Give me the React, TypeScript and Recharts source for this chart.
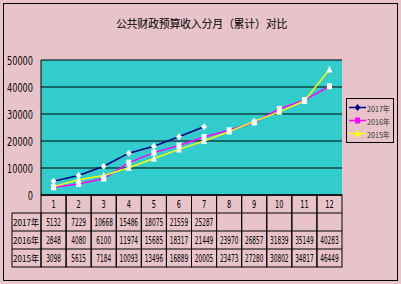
import React from 'react';
import { LineChart, Line, XAxis, YAxis, CartesianGrid, Legend } from 'recharts';

const months = ['1', '2', '3', '4', '5', '6', '7', '8', '9', '10', '11', '12'];
const s2017 = [5132, 7229, 10668, 15486, 18075, 21559, 25287];
const s2016 = [2848, 4080, 6100, 11974, 15685, 18317, 21449, 23970, 26857, 31839, 35149, 40283];
const s2015 = [3098, 5615, 7184, 10093, 13496, 16889, 20005, 23473, 27280, 30802, 34817, 46449];
const seriesNames = ['2017年', '2016年', '2015年'];
const seriesColors = ['#000080', '#FF00FF', '#FFFF00'];
const yTicks = [0, 10000, 20000, 30000, 40000, 50000];
const title = '公共财政预算收入分月（累计）对比';

const W = 401;
const H = 284;
const M = { top: 60, right: 59, bottom: 17, left: 0 };
const Y_W = 41;
const X_H = 72;
const PLOT_W = W - M.left - Y_W - M.right;
const COL_W = PLOT_W / months.length;
const ROW_H = X_H / 4;
const BG = '#E8C4CA';
const FONT = '"Liberation Sans Narrow", "DejaVu Sans Condensed", "Noto Sans CJK SC", sans-serif';
const CJK = '"Noto Sans CJK SC", sans-serif';

const data = months.map((m, i) => ({
  month: m,
  y2017: i < s2017.length ? s2017[i] : null,
  y2016: s2016[i] ?? null,
  y2015: s2015[i] ?? null,
}));

const Diamond = ({ cx, cy, fill }: any) =>
  cx == null || cy == null ? null : (
    <polygon points={`${cx},${cy - 3.5} ${cx + 3},${cy} ${cx},${cy + 3.5} ${cx - 3},${cy}`} fill={fill} />
  );
const Square = ({ cx, cy, fill }: any) =>
  cx == null || cy == null ? null : <rect x={cx - 2.5} y={cy - 3} width={5} height={6} fill={fill} />;
const Triangle = ({ cx, cy, fill }: any) =>
  cx == null || cy == null ? null : (
    <polygon points={`${cx},${cy - 4} ${cx + 3},${cy + 3} ${cx - 3},${cy + 3}`} fill={fill} />
  );
const markers = [Diamond, Square, Triangle];

// narrow, tall digits like the original bitmap font
const numText = (x: number, y: number, v: string | number, per: number, size: number, sy: number, anchor = 'middle') => {
  const s = String(v);
  return (
    <g transform={`translate(${x},${y}) scale(1,${sy})`}>
      <text
        x={0}
        y={0}
        textAnchor={anchor}
        dominantBaseline="central"
        fontFamily={FONT}
        fontSize={size}
        fill="#000"
        textLength={s.length * per}
        lengthAdjust="spacingAndGlyphs"
      >
        {s}
      </text>
    </g>
  );
};

const YTick = ({ x, y, payload }: any) => <g>{numText(x, y + 1, payload.value, 5.2, 10, 1.25, 'end')}</g>;

const TableTick = ({ x, y, payload, index }: any) => {
  const i = typeof index === 'number' ? index : months.indexOf(payload.value);
  const left = x - COL_W / 2;
  const vals = [s2017[i], s2016[i], s2015[i]];
  return (
    <g>
      <rect x={left} y={y} width={COL_W} height={ROW_H * 4} fill="none" stroke="#000" strokeWidth={1} />
      {[1, 2, 3].map((r) => (
        <line key={r} x1={left} x2={left + COL_W} y1={y + ROW_H * r} y2={y + ROW_H * r} stroke="#000" />
      ))}
      {numText(x, y + ROW_H / 2, payload.value, 4.2, 9, 1.2)}
      {vals.map((v, r) =>
        v == null ? null : <g key={r}>{numText(x, y + ROW_H * (r + 1.5), v, 3.7, 8, 1.35)}</g>
      )}
      {i === 0 && (
        <g>
          <rect x={12} y={y + ROW_H} width={left - 12} height={ROW_H * 3} fill="none" stroke="#000" />
          {[2, 3].map((r) => (
            <line key={r} x1={12} x2={left} y1={y + ROW_H * r} y2={y + ROW_H * r} stroke="#000" />
          ))}
          {seriesNames.map((n, r) => (
            <text
              key={n}
              x={13}
              y={y + ROW_H * (r + 1.5)}
              dominantBaseline="central"
              fontFamily={CJK}
              fontSize={9}
              textLength={26}
              lengthAdjust="spacingAndGlyphs"
              fill="#000"
            >
              {n}
            </text>
          ))}
        </g>
      )}
    </g>
  );
};

const LegendBox = ({ payload }: any) => {
  const items = [...(payload || [])].sort(
    (a: any, b: any) => seriesNames.indexOf(a.value) - seriesNames.indexOf(b.value)
  );
  return (
    <div
      style={{
        border: '1px solid #000',
        width: 46,
        height: 41,
        background: BG,
        boxSizing: 'content-box',
        paddingTop: 2,
      }}
    >
      {items.map((p: any) => {
        const k = seriesNames.indexOf(p.value);
        const Mk = markers[k];
        const c = seriesColors[k];
        return (
          <svg key={p.value} width={46} height={13} style={{ display: 'block' }}>
            <line x1={2} x2={19} y1={6.5} y2={6.5} stroke={c} strokeWidth={1.5} />
            <Mk cx={10.5} cy={6.5} fill={c} />
            <text
              x={20}
              y={7}
              dominantBaseline="central"
              fontFamily={CJK}
              fontSize={7.5}
              textLength={23}
              lengthAdjust="spacingAndGlyphs"
              fill="#333"
            >
              {p.value}
            </text>
          </svg>
        );
      })}
    </div>
  );
};

export default function App() {
  return (
    <div style={{ position: 'absolute', left: 0, top: 0, width: W, height: H, background: BG }}>
      <div
        style={{
          position: 'absolute',
          left: 3,
          top: 3,
          width: 393,
          height: 276,
          border: '1px solid #000',
        }}
      />
      <div
        style={{
          position: 'absolute',
          left: 0,
          top: 15,
          width: W + 2,
          textAlign: 'center',
          fontFamily: CJK,
          fontSize: 11,
          lineHeight: '16px',
          letterSpacing: -0.3,
          color: '#000',
        }}
      >
        {title}
      </div>
      <LineChart width={W} height={H} data={data} margin={M} style={{ position: 'absolute', left: 0, top: 0 }}>
        <CartesianGrid vertical={false} stroke="#000" fill="#33CCCC" strokeWidth={1} />
        <XAxis
          dataKey="month"
          scale="point"
          padding={{ left: COL_W / 2, right: COL_W / 2 }}
          height={X_H}
          tickLine={false}
          tickSize={0}
          tickMargin={0}
          axisLine={{ stroke: '#000' }}
          tick={<TableTick />}
          interval={0}
        />
        <YAxis
          width={Y_W}
          domain={[0, 50000]}
          ticks={yTicks}
          interval={0}
          tickLine={false}
          tickSize={0}
          tickMargin={8}
          axisLine={{ stroke: '#000' }}
          tick={<YTick />}
        />
        <YAxis
          yAxisId="r"
          orientation="right"
          width={0}
          domain={[0, 50000]}
          ticks={yTicks}
          tick={false}
          tickLine={false}
          axisLine={{ stroke: '#808080' }}
        />
        <Line
          dataKey="y2017"
          name={seriesNames[0]}
          stroke={seriesColors[0]}
          strokeWidth={1.5}
          dot={<Diamond />}
          activeDot={false}
          isAnimationActive={false}
          connectNulls={false}
        />
        <Line
          dataKey="y2016"
          name={seriesNames[1]}
          stroke={seriesColors[1]}
          strokeWidth={1.5}
          dot={<Square />}
          activeDot={false}
          isAnimationActive={false}
        />
        <Line
          dataKey="y2015"
          name={seriesNames[2]}
          stroke={seriesColors[2]}
          strokeWidth={1.5}
          dot={<Triangle />}
          activeDot={false}
          isAnimationActive={false}
        />
        <Legend
          layout="vertical"
          align="center"
          verticalAlign="middle"
          wrapperStyle={{ left: 346, top: 98, width: 48, height: 43 }}
          content={<LegendBox />}
        />
      </LineChart>
    </div>
  );
}
